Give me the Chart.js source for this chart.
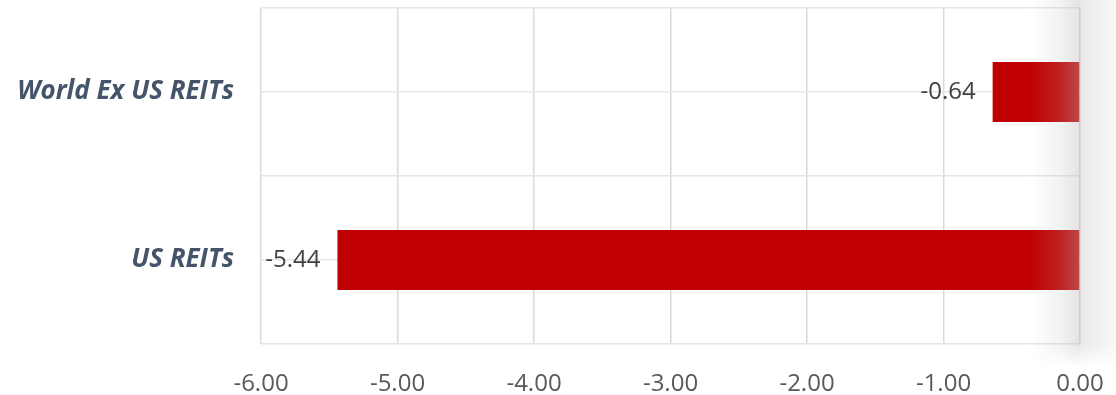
<!DOCTYPE html>
<html>
<head>
<meta charset="utf-8">
<script src="https://cdn.jsdelivr.net/npm/chart.js@4.4.1/dist/chart.umd.min.js"></script>
<style>
  html, body { margin: 0; padding: 0; background: #fff; overflow: hidden; }
  #wrap { width: 1116px; height: 395px; }
</style>
</head>
<body>
<div id="wrap"><canvas id="chart"></canvas></div>
<script>
const categories = ["World Ex US REITs", "US REITs"];
const returns = [-0.64, -5.44];
const xMin = -6;
const xMax = 0;
const xStep = 1;

// value labels just left of each bar
const barLabels = {
  id: "barLabels",
  afterDatasetsDraw(chart) {
    const ctx = chart.ctx;
    const meta = chart.getDatasetMeta(0);
    ctx.save();
    ctx.font = "24px 'Open Sans'";
    ctx.fillStyle = "#404040";
    ctx.textAlign = "right";
    ctx.textBaseline = "middle";
    meta.data.forEach((bar, i) => {
      ctx.fillText(returns[i].toFixed(2), bar.x - 17, bar.y);
    });
    ctx.restore();
  }
};

// soft grey shading along the right edge, as in the source image
const edgeShade = {
  id: "edgeShade",
  afterDraw(chart) {
    const { ctx, chartArea } = chart;
    const r = chartArea.right;
    const g = ctx.createLinearGradient(r - 50, 0, r + 36, 0);
    g.addColorStop(0, "rgba(185,185,185,0)");
    g.addColorStop(0.35, "rgba(185,185,185,0.18)");
    g.addColorStop(0.57, "rgba(185,185,185,0.38)");
    g.addColorStop(0.6, "rgba(185,185,185,0.3)");
    g.addColorStop(1, "rgba(185,185,185,0.1)");
    ctx.save();
    ctx.fillStyle = g;
    ctx.fillRect(r - 50, 0, 86, chartArea.bottom + 2);
    // fade the shading out just under the plot
    for (let i = 0; i < 10; i++) {
      ctx.globalAlpha = 0.9 - i * 0.09;
      ctx.fillRect(r - 50, chartArea.bottom + 2 + i * 2, 86, 2);
    }
    ctx.restore();
  }
};

const noPad = (s) => {
  s.paddingLeft = 0; s.paddingRight = 0;
  s.paddingTop = 0; s.paddingBottom = 0;
};

new Chart(document.getElementById("chart"), {
  type: "bar",
  data: {
    labels: categories,
    datasets: [{
      data: returns,
      backgroundColor: "#C00000",
      borderWidth: 0,
      barPercentage: 0.357,
      categoryPercentage: 1
    }]
  },
  options: {
    indexAxis: "y",
    responsive: true,
    maintainAspectRatio: false,
    animation: false,
    layout: { padding: { top: 8, right: 36, left: 0, bottom: 0 } },
    plugins: {
      legend: { display: false },
      tooltip: { enabled: false }
    },
    scales: {
      x: {
        min: xMin,
        max: xMax,
        border: { display: false },
        grid: { color: "#d9d9d9", lineWidth: 1.5, drawTicks: false },
        ticks: {
          stepSize: xStep,
          padding: 26,
          color: "#595959",
          font: { family: "'Open Sans'", size: 24 },
          callback: (v) => Number(v).toFixed(2)
        },
        afterFit: (s) => { s.height = 51; noPad(s); }
      },
      y: {
        border: { display: false },
        grid: { display: false, drawTicks: false },
        ticks: {
          padding: 27,
          color: "#44546A",
          font: { family: "'Open Sans'", size: 26, weight: "bold", style: "italic" }
        },
        afterFit: (s) => { s.width = 261; noPad(s); }
      },
      // hidden helper axis: gridlines at the category edges and centres
      y2: {
        type: "linear",
        position: "left",
        offset: false,
        min: 0,
        max: categories.length * 2,
        border: { display: false },
        grid: { color: "#e6e6e6", lineWidth: 1.5, drawTicks: false, offset: false },
        ticks: { display: false, stepSize: 1 },
        afterFit: (s) => { s.width = 0; noPad(s); }
      }
    }
  },
  plugins: [barLabels, edgeShade]
});
</script>
</body>
</html>
